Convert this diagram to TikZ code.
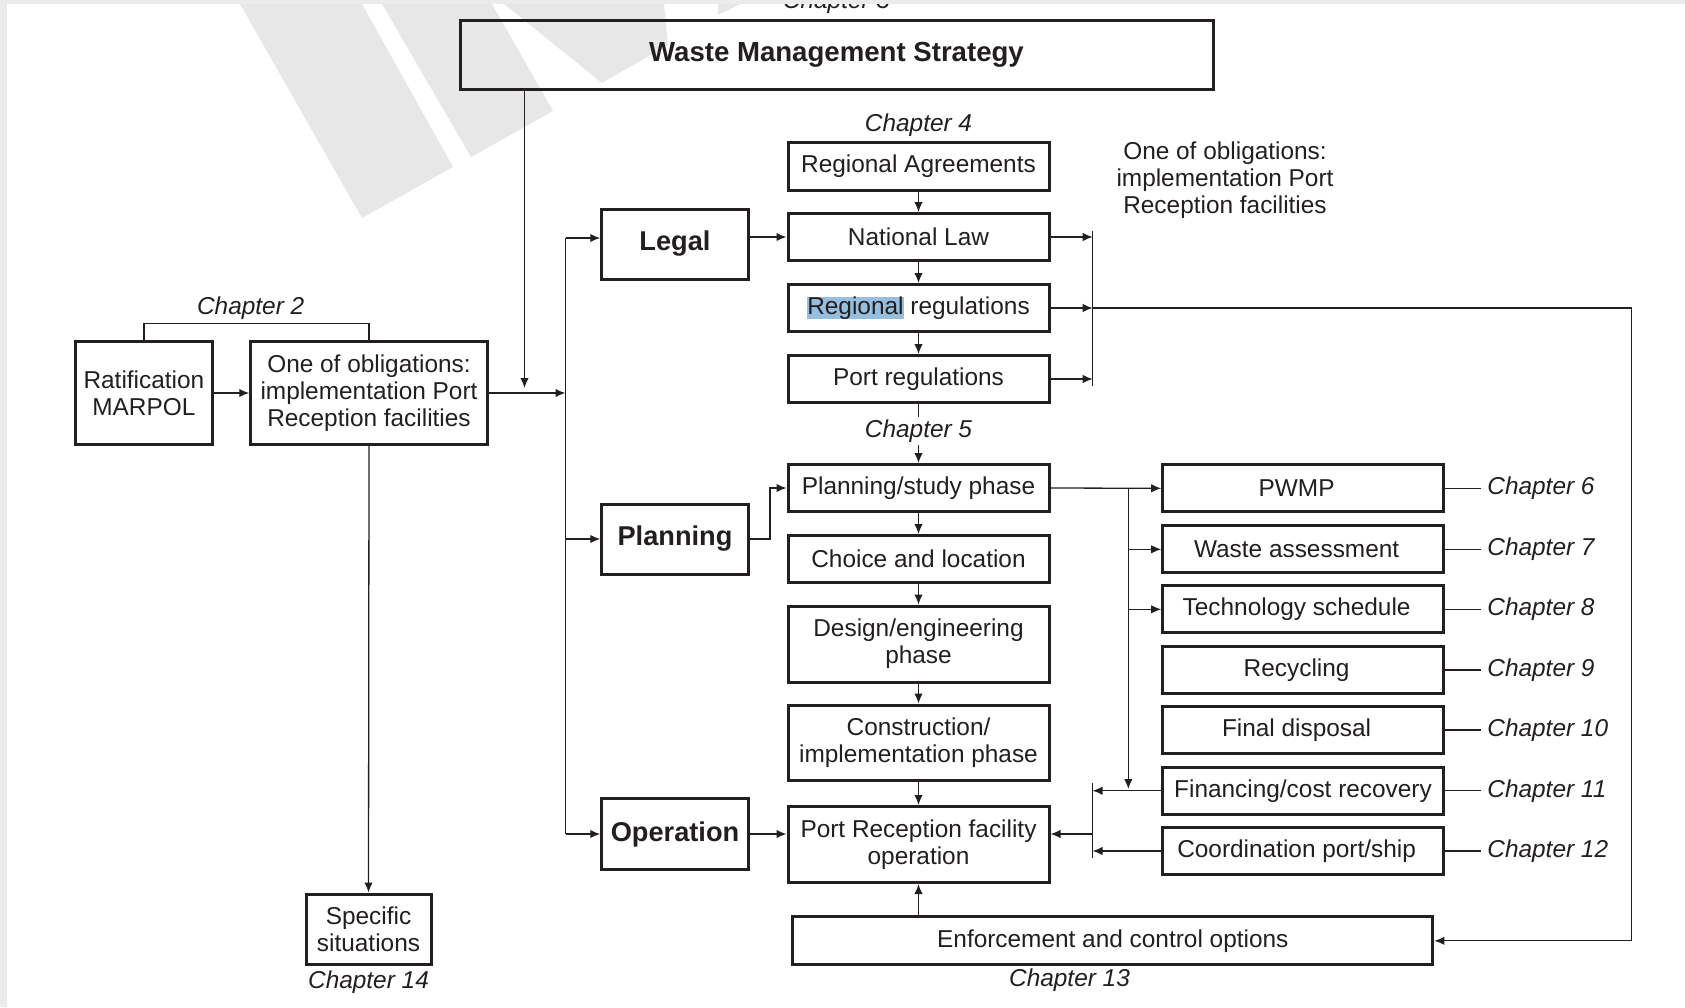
\documentclass[tikz,border=0pt]{standalone}
\usepackage{fontspec}
\setmainfont{Liberation Sans}
\usetikzlibrary{arrows.meta}
\definecolor{ink}{HTML}{231F20}
\definecolor{wm}{HTML}{E7E7E7}
\definecolor{framegray}{HTML}{EBEBEB}
\definecolor{selblue}{RGB}{150,190,222}
\newcommand{\lft}[1]{#1\hspace*{6.4pt}}
\begin{document}
\begin{tikzpicture}[x=0.5pt,y=-0.5pt,
  box/.style={draw=ink, line width=1.5pt, text=ink, inner sep=0pt, align=center,
              font=\fontsize{12.2}{13.5}\selectfont},
  bbox/.style={box, font=\bfseries\fontsize{13.6}{15}\selectfont},
  cbox/.style={box, minimum width=130.5pt, minimum height=23.5pt},
  rbox/.style={box, minimum width=140.3pt, minimum height=23.35pt},
  sbox/.style={bbox, minimum width=73.25pt, minimum height=35pt},
  conn/.style={draw=ink, line width=0.65pt},
  arr/.style={conn, -{Latex[length=5pt,width=4.2pt]}},
  chap/.style={text=ink, inner sep=1pt, font=\itshape\fontsize{12.2}{13.5}\selectfont},
  plain/.style={text=ink, inner sep=0pt, align=center, font=\fontsize{12.2}{13.5}\selectfont}
]
\useasboundingbox (0,0) rectangle (1685,1007);
\fill[white] (0,0) rectangle (1685,1007);
% watermark
\fill[wm] (240,4) -- (362,218) -- (453,167) -- (362,4) -- cycle;
\fill[wm] (382,4) -- (471,157) -- (553,111) -- (492,4) -- cycle;
\fill[wm] (504,4) -- (602,83) -- (668,45) -- (664,4) -- cycle;
\fill[wm] (718,4) -- (741,4) -- (718,15) -- cycle;

% top
\node[chap, anchor=base] (ch3) at (836.5,8) {Chapter 3};
\node[box, minimum width=376.5pt, minimum height=34.5pt,
      font=\bfseries\fontsize{13.8}{15}\selectfont] (wms) at (836.5,55) {Waste Management Strategy};

% left part
\node[chap] (ch2) at (250.7,308) {Chapter 2};
\node[box, minimum width=68.5pt, minimum height=51.3pt] (rat) at (143.9,393) {Ratification\\MARPOL};
\node[box, minimum width=118.25pt, minimum height=51.3pt] (obl) at (369,393) {One of obligations:\\implementation Port\\Reception facilities};
\node[box, minimum width=62.5pt, minimum height=35pt] (spec) at (368.5,929) {Specific\\situations};
\node[chap] (ch14) at (368.5,981.7) {Chapter 14};

% category boxes
\node[sbox] (legal) at (675,244) {Legal};
\node[sbox] (planning) at (675,539) {Planning};
\node[sbox, minimum height=35.5pt] (operation) at (675,834) {Operation};

% centre column
\node[chap] (ch4) at (918.5,125.5) {Chapter 4};
\node[cbox, minimum height=24pt] (ra) at (918.5,166) {Regional Agreements};
\node[cbox] (nl) at (918.5,237) {National Law};
\node[cbox] (rr) at (918.5,308) {{\setlength{\fboxsep}{0pt}\colorbox{selblue}{Regional}} regulations};
\node[cbox] (pr) at (918.5,379) {Port regulations};
\node[chap] (ch5) at (918.5,431) {Chapter 5};
\node[cbox] (ps) at (918.5,488) {Planning/study phase};
\node[cbox] (cl) at (918.5,559) {Choice and location};
\node[cbox, minimum height=38pt] (de) at (918.5,644) {Design/engineering\\phase};
\node[cbox, minimum height=37.5pt] (ci) at (918.5,742.5) {Construction/\\implementation phase};
\node[cbox, minimum height=38pt] (pro) at (918.5,844.5) {Port Reception facility\\operation};
\node[box, minimum width=320pt, minimum height=24pt] (enf) at (1112.8,940.8) {Enforcement and control options};
\node[chap] (ch13) at (1069.5,980) {Chapter 13};

% right note
\node[plain] (note) at (1225,180) {One of obligations:\\implementation Port\\Reception facilities};

% right column
\node[rbox] (pwmp) at (1303,488.3) {\lft{PWMP}};
\node[rbox] (wa) at (1303,549.3) {\lft{Waste assessment}};
\node[rbox] (ts) at (1303,609.3) {\lft{Technology schedule}};
\node[rbox] (rec) at (1303,670) {\lft{Recycling}};
\node[rbox] (fd) at (1303,730) {\lft{Final disposal}};
\node[rbox] (fin) at (1303,790.7) {Financing/cost recovery};
\node[rbox] (co) at (1303,851) {\lft{Coordination port/ship}};

% helper coordinates
\coordinate (wx) at (524.5,388);
\coordinate (busL) at (565.5,0);
\coordinate (lg) at (565.5,238);
\coordinate (brR) at (1092.7,0);
\coordinate (brRt) at (1092.7,231);
\coordinate (brRb) at (1092.7,386);
\coordinate (outR) at (1631.7,0);
\coordinate (pk) at (770,0);
\coordinate (rb) at (1128.3,0);
\coordinate (rbEnd) at (1128.3,789);
\coordinate (brP) at (1092.5,0);
\coordinate (brPt) at (1092.5,783);
\coordinate (brPb) at (1092.5,858);
\coordinate (c2) at (0,323.3);
\coordinate (chx) at (1480.6,0);

% connectors: left
\draw[conn] (rat.north) -- (rat.north |- c2) -- (obl.north |- c2) -- (obl.north);
\draw[arr] (rat.east) -- (obl.west);
\draw[arr] (obl.east) -- (obl.east -| busL);
\draw[arr] (obl.south) -- (spec.north);
\draw[arr] (wms.south -| wx) -- (wx);
\draw[conn] (lg) -- (busL |- operation);
\draw[arr] (lg) -- (lg -| legal.west);
\draw[arr] (busL |- planning) -- (planning.west);
\draw[arr] (busL |- operation) -- (operation.west);

% legal chain
\draw[arr] (legal.east |- nl.west) -- (nl.west);
\draw[arr] (ra.south) -- (nl.north);
\draw[arr] (nl.south) -- (rr.north);
\draw[arr] (rr.south) -- (pr.north);
\draw[conn] (pr.south) -- (ch5.north);
\draw[arr] (ch5.south) -- (ps.north);
\draw[arr] (nl.east) -- (nl.east -| brR);
\draw[arr] (rr.east) -- (rr.east -| brR);
\draw[arr] (pr.east) -- (pr.east -| brR);
\draw[conn] (brRt) -- (brRb);
\draw[arr] (rr.east -| brR) -- (rr.east -| outR) -- (outR |- enf.east) -- (enf.east);

% planning chain
\draw[arr] (planning.east) -- (planning.east -| pk) -- (pk |- ps.west) -- (ps.west);
\draw[arr] (ps.south) -- (cl.north);
\draw[arr] (cl.south) -- (de.north);
\draw[arr] (de.south) -- (ci.north);
\draw[arr] (ci.south) -- (pro.north);
\draw[arr] (operation.east) -- (operation.east -| pro.west);
\draw[arr] (pro.south |- enf.north) -- (pro.south);

% right connectors
\draw[arr] (ps.east) -- (pwmp.west);
\draw[arr] (ps.east -| rb) -- (rbEnd);
\draw[arr] (rb |- wa.west) -- (wa.west);
\draw[arr] (rb |- ts.west) -- (ts.west);
\draw[arr] (fin.west) -- (fin.west -| brP);
\draw[arr] (co.west) -- (co.west -| brP);
\draw[conn] (brPt) -- (brPb);
\draw[arr] (brP |- operation) -- (pro.east |- operation);

% chapter ticks
\foreach \b/\c in {pwmp/6, wa/7, ts/8, rec/9, fd/10, fin/11, co/12}{
  \draw[conn] (\b.east) -- (\b.east -| chx);
  \node[chap, anchor=west, inner sep=0pt] (ch\c) at ([xshift=3.2pt]\b.east -| chx) {Chapter \c};
}

% page frame
\fill[framegray] (0,0) rectangle (1685,4);
\fill[framegray] (0,0) rectangle (7,1007);
\end{tikzpicture}
\end{document}
